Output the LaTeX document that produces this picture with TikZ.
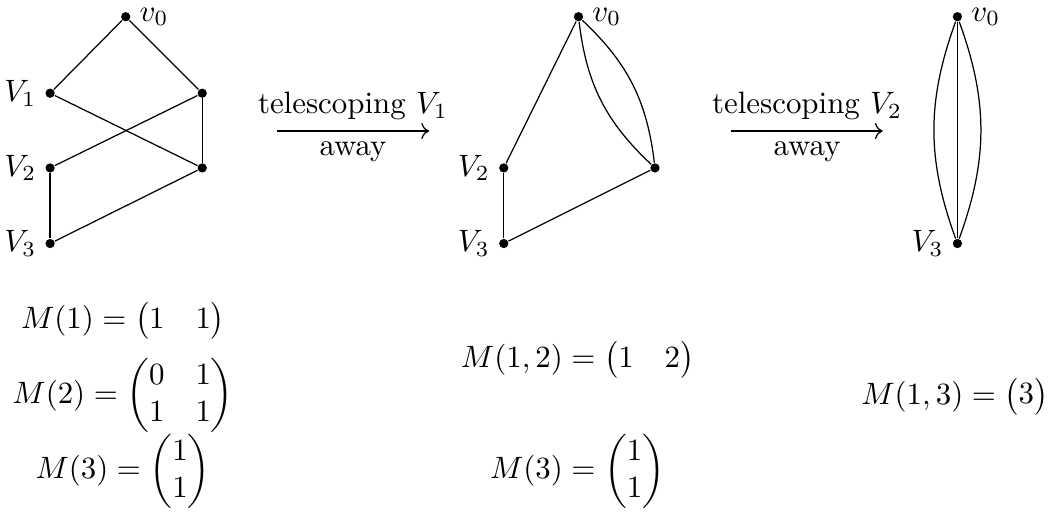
\documentclass[tikz,border=0pt]{standalone}
\usepackage{amsmath,amssymb}
\usepackage{tikz}
\usetikzlibrary{arrows.meta,positioning}

\begin{document}
\begin{tikzpicture}[vert/.style={circle,fill,inner sep=0pt,minimum size=3pt},
                    every label/.style={inner sep=2.6pt},
                    mat/.style={inner sep=0pt}]
        \useasboundingbox (0,0) rectangle (12.0,5.82);
        % before telescoping
        \node[vert,label=right:$v_0$] (a0) at (1.43,5.63) {};
        \node[vert,label=left:$V_1$] (a1) at (0.57,4.76) {};
        \node[vert,label=left:$V_2$] (a2) at (0.57,3.91) {};
        \node[vert,label=left:$V_3$] (a3) at (0.57,3.05) {};
        \node[vert] (ar1) at (2.30,4.76) {};
        \node[vert] (ar2) at (2.30,3.91) {};
        \draw (a0) -- (a1);
        \draw (a0) -- (ar1);
        \draw (a1) -- (ar2);
        \draw (ar1) -- (a2);
        \draw (ar1) -- (ar2);
        \draw (a2) -- (a3);
        \draw (a3) -- (ar2);
        % V_1 telescoped away
        \node[vert,label=right:$v_0$] (b0) at (6.58,5.63) {};
        \node[vert,label=left:$V_2$] (b2) at (5.73,3.91) {};
        \node[vert,label=left:$V_3$] (b3) at (5.73,3.05) {};
        \node[vert] (br) at (7.45,3.91) {};
        \draw (b0) -- (b2);
        \draw (b0) to[bend left=20] (br);
        \draw (b0) to[bend right=20] (br);
        \draw (b2) -- (b3);
        \draw (b3) -- (br);
        % V_2 telescoped away
        \node[vert,label=right:$v_0$] (c0) at (10.89,5.63) {};
        \node[vert,label=left:$V_3$] (c3) at (10.89,3.05) {};
        \draw (c0) -- (c3);
        \draw (c0) to[bend left=20] (c3);
        \draw (c0) to[bend right=20] (c3);
        % arrows
        \coordinate (s1) at (3.15,4.33);
        \coordinate (e1) at (4.88,4.33);
        \coordinate (s2) at (8.32,4.33);
        \coordinate (e2) at (10.04,4.33);
        \draw[->] (s1) -- (e1) node[midway,above] {telescoping $V_1$}
                                node[midway,below] {away};
        \draw[->] (s2) -- (e2) node[midway,above] {telescoping $V_2$}
                                node[midway,below] {away};
        % matrices
        \node[mat] (m1) at (1.40,2.17) {$M(1)=\begin{pmatrix}1&1\end{pmatrix}$};
        \node[mat] (m2) at (1.40,1.32) {$M(2)=\begin{pmatrix}0&1\\1&1\end{pmatrix}$};
        \node[mat] (m3) at (1.40,0.46) {$M(3)=\begin{pmatrix}1\\1\end{pmatrix}$};
        \node[mat] (m12) at (6.57,1.73) {$M(1,2)=\begin{pmatrix}1&2\end{pmatrix}$};
        \node[mat] (m3b) at (6.57,0.46) {$M(3)=\begin{pmatrix}1\\1\end{pmatrix}$};
        \node[mat] (m13) at (10.86,1.31) {$M(1,3)=\begin{pmatrix}3\end{pmatrix}$};
      \end{tikzpicture}
\end{document}
